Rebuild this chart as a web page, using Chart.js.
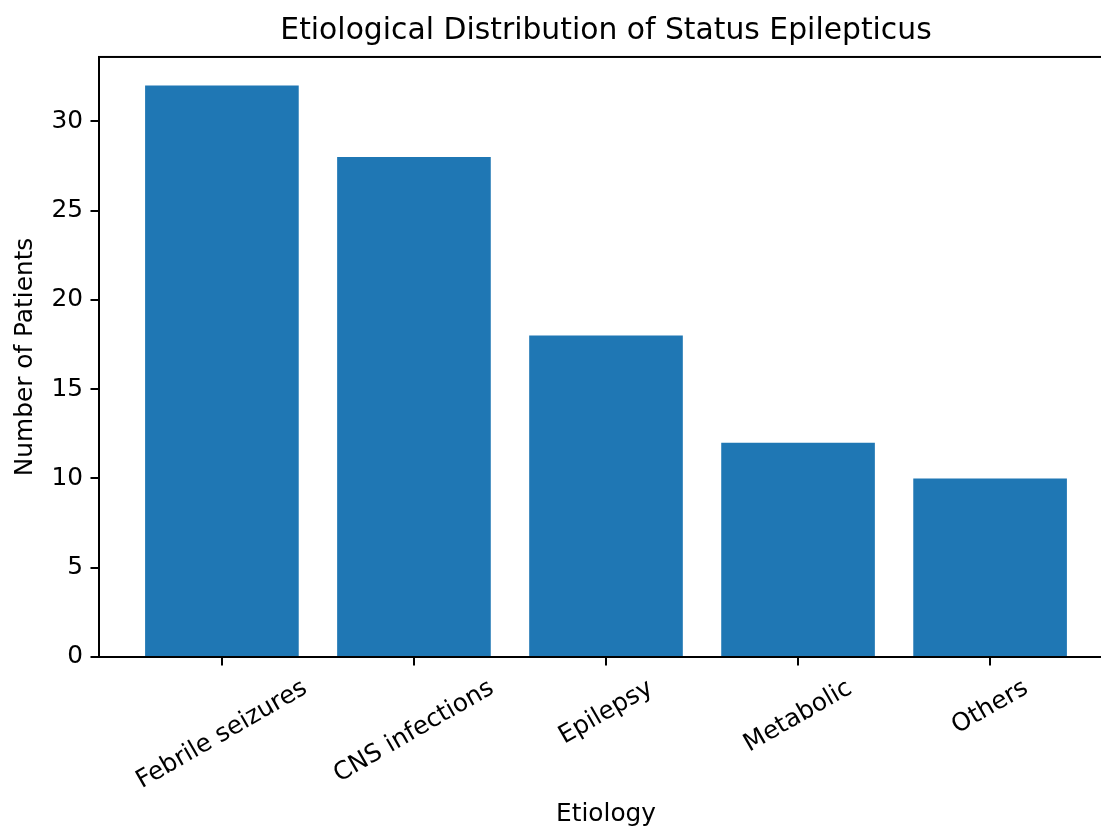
<!DOCTYPE html>
<html>
<head>
<meta charset="utf-8">
<script src="https://cdn.jsdelivr.net/npm/chart.js@4/dist/chart.umd.min.js"></script>
<style>
  html, body { margin: 0; padding: 0; overflow: hidden; background: #ffffff; }
  #wrap { width: 1101px; height: 827px; overflow: hidden; position: relative; }
  canvas { display: block; background: #ffffff; }
</style>
</head>
<body>
<div id="wrap"><canvas id="c" width="1120" height="827"></canvas></div>
<script>
const categories = ["Febrile seizures", "CNS infections", "Epilepsy", "Metabolic", "Others"];
const patients = [32, 28, 18, 12, 10];
const yTickStep = 5;
const titleText = "Etiological Distribution of Status Epilepticus";
const xTitle = "Etiology";
const yTitle = "Number of Patients";

const FONT = "'DejaVu Sans', sans-serif";
const LABEL_SIZE = 24.8;
const TITLE_SIZE = 29.8;
const TICK_LEN = 8.5;
const TICK_PAD = 8.5;

const rotatedLabels = {
  id: 'rotatedLabels',
  afterDraw(chart) {
    const ctx = chart.ctx;
    const xs = chart.scales.x;
    const area = chart.chartArea;
    const theta = Math.PI / 6;
    ctx.save();
    ctx.font = LABEL_SIZE + "px " + FONT;
    ctx.fillStyle = '#000000';
    ctx.textAlign = 'center';
    ctx.textBaseline = 'middle';
    categories.forEach((lab, i) => {
      const x = xs.getPixelForValue(i);
      const w = ctx.measureText(lab).width;
      const h = LABEL_SIZE * 1.164;
      const H = w * Math.sin(theta) + h * Math.cos(theta);
      const cy = area.bottom + TICK_LEN + TICK_PAD + H / 2;
      ctx.save();
      ctx.translate(x, cy);
      ctx.rotate(-theta);
      ctx.fillText(lab, 0, 0);
      ctx.restore();
    });
    ctx.strokeStyle = '#000000';
    ctx.lineWidth = 2;
    ctx.strokeRect(area.left, area.top, area.right - area.left, area.bottom - area.top);
    ctx.restore();
  }
};

new Chart(document.getElementById('c'), {
  type: 'bar',
  data: {
    datasets: [{
      data: patients.map((v, i) => ({ x: i, y: v })),
      backgroundColor: '#1f77b4',
      borderWidth: 0,
      barPercentage: 1.0,
      categoryPercentage: 0.8
    }]
  },
  options: {
    responsive: false,
    animation: false,
    devicePixelRatio: 1,
    layout: { padding: { left: 0, right: 7, top: 0, bottom: 0 } },
    plugins: {
      legend: { display: false },
      tooltip: { enabled: false },
      title: {
        display: true,
        fullSize: false,
        text: titleText,
        color: '#000000',
        font: { family: FONT, size: TITLE_SIZE, weight: 'normal', lineHeight: 1.2 },
        padding: { top: 13.6, bottom: 7.6 }
      }
    },
    scales: {
      x: {
        type: 'linear',
        min: -0.64,
        max: 4.64,
        offset: false,
        afterBuildTicks(scale) { scale.ticks = categories.map((_, i) => ({ value: i })); },
        afterFit(scale) { scale.height = 170; },
        ticks: { display: false },
        grid: {
          drawOnChartArea: false, drawTicks: true, tickLength: TICK_LEN,
          color: '#000000', lineWidth: 2, offset: false
        },
        border: { display: true, color: '#000000', width: 2 },
        title: {
          display: true, text: xTitle, color: '#000000',
          font: { family: FONT, size: LABEL_SIZE, weight: 'normal', lineHeight: 1.2 },
          padding: { top: 0, bottom: -2 }
        }
      },
      y: {
        min: 0,
        max: 33.6,
        afterFit(scale) { scale.width = 99; },
        ticks: {
          stepSize: yTickStep, includeBounds: false, padding: 7.5,
          color: '#000000', font: { family: FONT, size: LABEL_SIZE }
        },
        grid: {
          drawOnChartArea: false, drawTicks: true, tickLength: TICK_LEN,
          color: '#000000', lineWidth: 2
        },
        border: { display: true, color: '#000000', width: 2 },
        title: {
          display: true, text: yTitle, color: '#000000',
          font: { family: FONT, size: LABEL_SIZE, weight: 'normal', lineHeight: 1.2 },
          padding: { top: 10.3, bottom: 0 }
        }
      }
    }
  },
  plugins: [rotatedLabels]
});
</script>
</body>
</html>
